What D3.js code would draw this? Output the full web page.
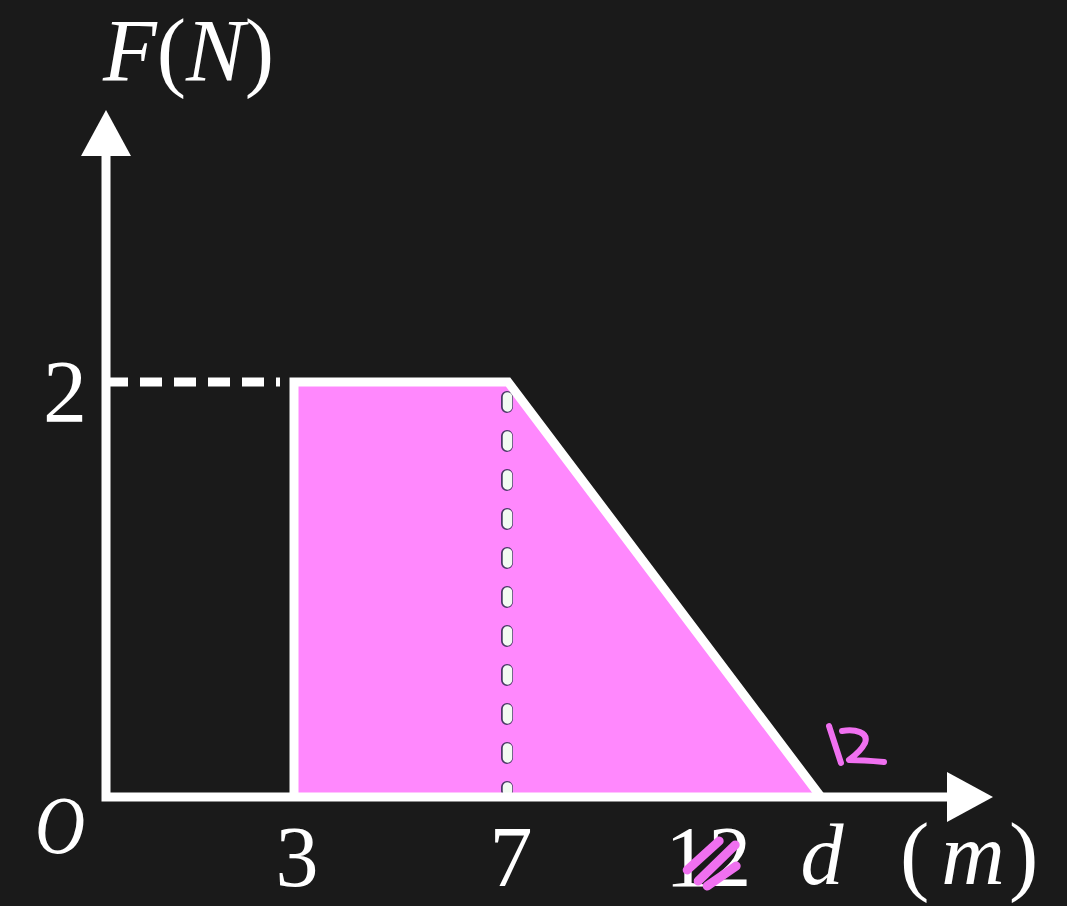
<!DOCTYPE html>
<html>
<head>
<meta charset="utf-8">
<script src="https://cdn.jsdelivr.net/npm/d3@7"></script>
<style>
  html, body { margin: 0; padding: 0; background: #1a1a1a; overflow: hidden; }
  svg { display: block; }
  text { font-family: "Liberation Serif", "Times New Roman", serif; fill: #ffffff; }
</style>
</head>
<body>
<svg id="chart" width="1067" height="906"></svg>
<script>
// Force–displacement outline: F(N) against d(m)
const distance = [3, 3, 7, 12];
const force = [0, 2, 2, 0];

// Axis labels (values in metres / newtons)
const xTickValues = [3, 7, 10.15, 12];
const xTickLabels = ["3", "7", "12", "d"];
const yTickValues = [2];
const yTickLabels = ["2"];

// Vertical guide splitting the area
const guideDistance = [7];

// Extent of the arrowed axes
const xAxisMax = 14.7;
const yAxisMax = 3.31;

const svg = d3.select("#chart");
const W = 1067, H = 906;

svg.append("rect").attr("width", W).attr("height", H).attr("fill", "#1a1a1a");

// The sketch is not to scale, so the x scale is piecewise linear
const x = d3.scaleLinear()
  .domain([0, 3, 7, 12, xAxisMax])
  .range([106, 294, 508, 821, 993]);
const y = d3.scaleLinear()
  .domain([0, yAxisMax])
  .range([797, 110]);

const pts = distance.map((d, i) => [d, force[i]]);
const outline = d3.line().x(d => x(d[0])).y(d => y(d[1]));

// Filled work area
svg.append("path")
  .attr("d", outline(pts) + "Z")
  .attr("fill", "#ff88fd")
  .attr("stroke", "none");

// Dotted guide at d = 7 (dark rim under a white dash)
guideDistance.forEach(g => {
  const gl = svg.append("g");
  const x0 = x(g) - 1, yTop = y(2) + 15, yBot = y(0) - 6;
  gl.append("line")
    .attr("x1", x0).attr("x2", x0).attr("y1", yTop).attr("y2", yBot)
    .attr("stroke", "#4a3a66").attr("stroke-width", 12)
    .attr("stroke-linecap", "round").attr("stroke-dasharray", "10 29");
  gl.append("line")
    .attr("x1", x0 + 0.5).attr("x2", x0 + 0.5).attr("y1", yTop).attr("y2", yBot)
    .attr("stroke", "#f2fbf2").attr("stroke-width", 9.5)
    .attr("stroke-linecap", "round").attr("stroke-dasharray", "10 29");
});

// Dashed reference from the F axis to the plateau
svg.append("line")
  .attr("x1", x(0)).attr("x2", x(3) - 14)
  .attr("y1", y(2)).attr("y2", y(2))
  .attr("stroke", "#ffffff").attr("stroke-width", 9)
  .attr("stroke-dasharray", "22 12");

// White outline of the area (top, sides)
svg.append("path")
  .attr("d", outline(pts))
  .attr("fill", "none")
  .attr("stroke", "#ffffff")
  .attr("stroke-width", 9)
  .attr("stroke-linejoin", "miter");

// Axes with arrowheads
const arrowLen = 46, arrowHalf = 25;
svg.append("path")
  .attr("d", `M${x(xAxisMax) - arrowLen + 2},${y(0)} L${x(0)},${y(0)} L${x(0)},${y(yAxisMax) + arrowLen - 2}`)
  .attr("fill", "none")
  .attr("stroke", "#ffffff")
  .attr("stroke-width", 9)
  .attr("stroke-linejoin", "miter");

svg.append("path")
  .attr("d", `M${x(xAxisMax)},${y(0)} L${x(xAxisMax) - arrowLen},${y(0) - arrowHalf} L${x(xAxisMax) - arrowLen},${y(0) + arrowHalf}Z`)
  .attr("fill", "#ffffff");
svg.append("path")
  .attr("d", `M${x(0)},${y(yAxisMax)} L${x(0) - arrowHalf},${y(yAxisMax) + arrowLen} L${x(0) + arrowHalf},${y(yAxisMax) + arrowLen}Z`)
  .attr("fill", "#ffffff");

const fs = 88;
const tickFs = 86;

// Axis title F(N)
const ft = svg.append("text").attr("x", 103).attr("y", 80).attr("font-size", fs);
ft.append("tspan").attr("font-style", "italic").text("F");
ft.append("tspan").text("(");
ft.append("tspan").attr("font-style", "italic").text("N");
ft.append("tspan").text(")");

// y tick labels
svg.selectAll(".ytick").data(yTickValues).join("text")
  .attr("class", "ytick")
  .attr("x", 87).attr("y", d => y(d) + 39)
  .attr("text-anchor", "end").attr("font-size", fs)
  .text((d, i) => yTickLabels[i]);

// Origin
svg.append("text")
  .attr("x", 60).attr("y", y(0) + 56)
  .attr("text-anchor", "middle")
  .attr("font-size", 82).attr("font-style", "italic")
  .attr("textLength", 50).attr("lengthAdjust", "spacingAndGlyphs")
  .text("O");

// x tick labels
svg.selectAll(".xtick").data(xTickValues).join("text")
  .attr("class", "xtick")
  .attr("x", d => x(d) + (d === 12 ? 1 : 3))
  .attr("y", (d, i) => xTickLabels[i] === "d" ? 884 : 886)
  .attr("text-anchor", "middle").attr("font-size", tickFs)
  .attr("font-style", (d, i) => xTickLabels[i] === "d" ? "italic" : "normal")
  .text((d, i) => xTickLabels[i]);

// Unit (m)
const mt = svg.append("text").attr("x", 900).attr("y", 884).attr("font-size", fs);
mt.append("tspan").text("(");
mt.append("tspan").attr("dx", 12).attr("font-style", "italic").text("m");
mt.append("tspan").attr("dx", 4).text(")");

// Pen marks: strike over the tick "12" and a handwritten 12 at the end point
const pen = svg.append("g")
  .attr("fill", "none")
  .attr("stroke", "#f070f0")
  .attr("stroke-linecap", "round")
  .attr("stroke-linejoin", "round");

const tx = x(10.15);
pen.append("path")
  .attr("stroke-width", 9)
  .attr("d",
    `M${tx - 18},870 L${tx + 14},841 ` +
    `M${tx - 7},881 L${tx + 30},845 ` +
    `M${tx + 2},886 L${tx + 31},866`);

const ex = x(12), ey = y(0);
pen.append("path")
  .attr("stroke-width", 6)
  .attr("d",
    `M${ex + 8},${ey - 71} L${ex + 20},${ey - 34} ` +
    `M${ex + 21},${ey - 66} C${ex + 34},${ey - 68} ${ex + 48},${ey - 65} ${ex + 44},${ey - 54} ` +
    `C${ex + 40},${ey - 46} ${ex + 32},${ey - 40} ${ex + 28},${ey - 37} ` +
    `C${ex + 40},${ey - 37} ${ex + 52},${ey - 36} ${ex + 63},${ey - 35}`);
</script>
</body>
</html>
